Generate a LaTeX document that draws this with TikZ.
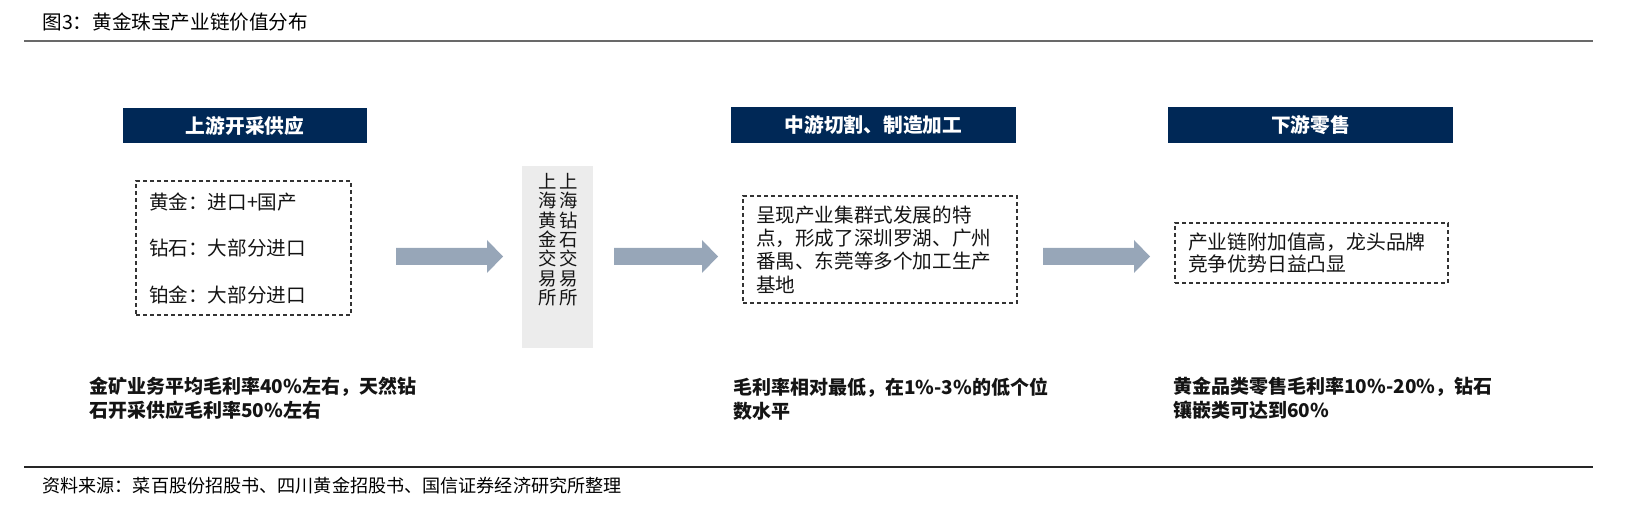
\documentclass[tikz,border=0pt]{standalone}
\usepackage{fontspec}
\setmainfont{Noto Sans CJK SC}
\definecolor{hdrcol}  {RGB}{  0, 40, 86}
\definecolor{arrowcol}{RGB}{151,166,184}
\definecolor{xchgcol} {RGB}{236,236,236}
\definecolor{dashcol} {RGB}{ 51, 51, 51}
\definecolor{rulecol} {RGB}{105,105,105}
\definecolor{textcol} {RGB}{ 20, 20, 20}

\begin{document}
\begin{tikzpicture}[
  % pixel grid of the reference: 1px = 0.5pt, y runs downwards
  x=0.5pt,y=-0.5pt,
  stagehead/.style={fill=hdrcol,text=white,inner sep=0pt,minimum height=17.75pt,
    font=\bfseries\fontsize{9.85pt}{11pt}\selectfont},
  notebox/.style={draw=dashcol,line width=0.6pt,dash pattern=on 2pt off 1.5pt,
    align=left,inner xsep=6.5pt,inner ysep=0pt,text=textcol},
  vcol/.style={align=center,inner sep=0pt,text=textcol,
    font=\fontsize{9.2pt}{9.65pt}\selectfont},
  margin/.style={align=left,inner sep=0pt,text=textcol,
    font=\bfseries\fontsize{9.5pt}{12pt}\selectfont}
]
\useasboundingbox (0,0) rectangle (1627,512);

% ---- title and rules -----------------------------------------------------
\node[anchor=west,inner sep=0pt,text=black,font=\fontsize{9.8pt}{11pt}\selectfont]
  (title) at (42,22) {图3：黄金珠宝产业链价值分布};
\draw[rulecol,line width=1pt] (24,41.5) -- (1593,41.5);
\draw[black!85,line width=0.7pt] (24,467) -- (1593,467);
\node[anchor=west,inner sep=0pt,text=black,font=\fontsize{9.05pt}{11pt}\selectfont]
  (source) at (42,486) {资料来源：菜百股份招股书、四川黄金招股书、国信证券经济研究所整理};

% ---- stage headers -------------------------------------------------------
\node[stagehead,minimum width=122pt]   (upstream)   at (245,125.5)  {上游开采供应};
\node[stagehead,minimum width=142.5pt] (midstream)  at (873.5,125)  {中游切割、制造加工};
\node[stagehead,minimum width=142.5pt] (downstream) at (1310.5,125) {下游零售};

% ---- dashed note boxes ---------------------------------------------------
\node[notebox,text width=94.5pt,minimum height=67pt,
  font=\fontsize{9.8pt}{23.25pt}\selectfont] (supply) at (243.5,248)
  {黄金：进口+国产\\钻石：大部分进口\\铂金：大部分进口};
\node[notebox,text width=124pt,minimum height=53.5pt,
  font=\fontsize{9.8pt}{11.65pt}\selectfont] (process) at (880,249.5)
  {呈现产业集群式发展的特\\点，形成了深圳罗湖、广州\\番禺、东莞等多个加工生产\\基地};
\node[notebox,text width=123.5pt,minimum height=30pt,
  font=\fontsize{9.9pt}{11pt}\selectfont] (retail) at (1311.5,253)
  {产业链附加值高，龙头品牌\\竞争优势日益凸显};

% ---- exchanges -----------------------------------------------------------
\node[fill=xchgcol,minimum width=35.5pt,minimum height=91pt,inner sep=0pt]
  (exchange) at (557.5,257) {};
\node[vcol,anchor=north] (sge) at (547.5,173) {上\\海\\黄\\金\\交\\易\\所};
\node[vcol,anchor=north] (sdx) at (569,173)   {上\\海\\钻\\石\\交\\易\\所};

% ---- block arrows --------------------------------------------------------
\foreach \xs/\xe in {396/503,614/718,1043/1150}
  \fill[arrowcol] (\xs,248) -- (\xe-16,248) -- (\xe-16,240) -- (\xe,256.5)
    -- (\xe-16,273) -- (\xe-16,265) -- (\xs,265) -- cycle;

% ---- margins -------------------------------------------------------------
\node[margin,anchor=north west] (supplymargin)  at (89,377)
  {金矿业务平均毛利率40\%左右，天然钻\\石开采供应毛利率50\%左右};
\node[margin,anchor=north west] (processmargin) at (733,377)
  {毛利率相对最低，在1\%-3\%的低个位\\数水平};
\node[margin,anchor=north west] (retailmargin)  at (1173,377)
  {黄金品类零售毛利率10\%-20\%，钻石\\镶嵌类可达到60\%};

\end{tikzpicture}
\end{document}
